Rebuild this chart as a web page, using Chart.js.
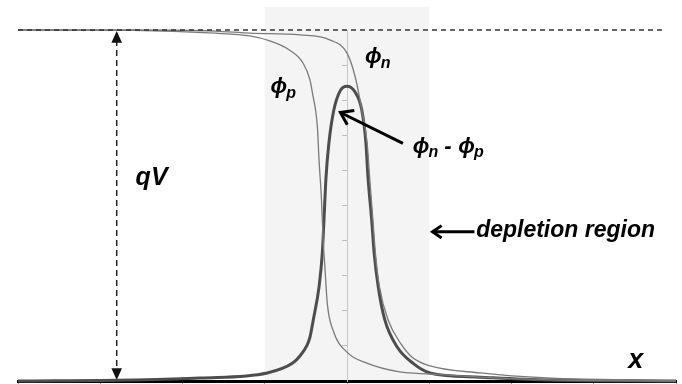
<!DOCTYPE html>
<html>
<head>
<meta charset="utf-8">
<script src="https://cdn.jsdelivr.net/npm/chart.js@4.4.1/dist/chart.umd.min.js"></script>
<style>
  html, body { margin: 0; padding: 0; background: #fff; }
  #wrap { width: 682px; height: 384px; }
</style>
</head>
<body>
<div id="wrap"><canvas id="pnChart" width="682" height="384"></canvas></div>
<script>
// position along the junction (x) and normalised energy (y)
const phiPx = [-4, -2.6, -1.6, -1.18, -0.94, -0.7, -0.535, -0.45, -0.42, -0.36, -0.34, -0.31, -0.29, -0.27, -0.24, -0.17, 0.01, 0.24, 0.64, 1.01, 1.62, 2.5, 4];
const phiPy = [1.0, 0.999, 0.991, 0.983, 0.969, 0.943, 0.906, 0.858, 0.82, 0.724, 0.63, 0.515, 0.40, 0.33, 0.222, 0.145, 0.08, 0.051, 0.026, 0.02, 0.011, 0.003, 0];

const phiNx = [-4, -2.6, -1.6, -1.18, -0.57, -0.21, 0.0, 0.1, 0.18, 0.245, 0.275, 0.315, 0.345, 0.395, 0.5, 0.65, 0.8, 1.01, 1.62, 2.43, 3.4, 4];
const phiNy = [1.0, 1.0, 0.997, 0.991, 0.986, 0.972, 0.934, 0.866, 0.772, 0.678, 0.581, 0.459, 0.365, 0.268, 0.174, 0.108, 0.066, 0.043, 0.023, 0.0085, 0.003, 0];

const diffX = [-4, -2.6, -1.79, -0.97, -0.66, -0.57, -0.49, -0.45, -0.41, -0.34, -0.30, -0.28, -0.255, -0.22, -0.16, -0.08, 0, 0.09, 0.18, 0.23, 0.255, 0.30, 0.33, 0.38, 0.46, 0.61, 0.80, 1.01, 1.62, 2.43, 4];
const diffY = [0, 0.003, 0.0085, 0.023, 0.051, 0.072, 0.1, 0.125, 0.174, 0.268, 0.365, 0.459, 0.581, 0.678, 0.772, 0.828, 0.84, 0.826, 0.772, 0.678, 0.581, 0.459, 0.365, 0.268, 0.174, 0.097, 0.051, 0.023, 0.011, 0.003, 0];

const qvLineX = [-4, 3.84];
const qvLineY = [1, 1];

const depletion = [-1, 1];
const depletionTop = 1.066;

function toPoints(xs, ys) {
  return xs.map((x, i) => ({ x: x, y: ys[i] }));
}

const shadePlugin = {
  id: 'shade',
  beforeDraw(chart) {
    const { ctx, scales } = chart;
    const x1 = scales.x.getPixelForValue(depletion[0]);
    const x2 = scales.x.getPixelForValue(depletion[1]);
    const y1 = scales.y.getPixelForValue(depletionTop);
    const y2 = scales.y.getPixelForValue(0);
    ctx.save();
    ctx.fillStyle = '#f4f4f4';
    ctx.fillRect(x1, y1, x2 - x1, y2 - y1);
    ctx.restore();
  }
};

function arrowHead(ctx, fromX, fromY, toX, toY, len, filled) {
  const a = Math.atan2(toY - fromY, toX - fromX);
  const spread = filled ? 0.42 : 0.6;
  ctx.beginPath();
  ctx.moveTo(toX - len * Math.cos(a - spread), toY - len * Math.sin(a - spread));
  ctx.lineTo(toX, toY);
  ctx.lineTo(toX - len * Math.cos(a + spread), toY - len * Math.sin(a + spread));
  if (filled) { ctx.closePath(); ctx.fill(); } else { ctx.stroke(); }
}

function phiLabel(ctx, x, y, sub, size) {
  ctx.font = 'italic bold ' + size + 'px "Liberation Sans", Arial, sans-serif';
  ctx.fillText('\u03D5', x, y);
  const w = ctx.measureText('\u03D5').width;
  ctx.font = 'italic bold ' + Math.round(size * 0.72) + 'px "Liberation Sans", Arial, sans-serif';
  ctx.fillText(sub, x + w - 1, y + size * 0.2);
  return w + ctx.measureText(sub).width - 1;
}

const notesPlugin = {
  id: 'notes',
  afterDraw(chart) {
    const { ctx, scales } = chart;
    const px = v => scales.x.getPixelForValue(v);
    const py = v => scales.y.getPixelForValue(v);
    ctx.save();
    ctx.fillStyle = '#000';
    ctx.strokeStyle = '#000';
    ctx.textBaseline = 'alphabetic';

    // qV double arrow
    const ax = px(-2.8);
    ctx.strokeStyle = '#222';
    ctx.fillStyle = '#111';
    ctx.lineWidth = 1.5;
    ctx.setLineDash([6, 4]);
    ctx.beginPath();
    ctx.moveTo(ax, py(1) + 10);
    ctx.lineTo(ax, py(0) - 10);
    ctx.stroke();
    ctx.setLineDash([]);
    arrowHead(ctx, ax, py(0.5), ax, py(1) + 1, 13, true);
    arrowHead(ctx, ax, py(0.5), ax, py(0) - 1, 13, true);

    ctx.fillStyle = '#000';
    ctx.font = 'italic bold 25px "Liberation Sans", Arial, sans-serif';
    ctx.fillText('qV', px(-2.57), py(0.558));

    // phi labels
    phiLabel(ctx, px(-0.93), py(0.82), 'p', 22);
    phiLabel(ctx, px(0.22), py(0.905), 'n', 22);

    const lx = px(0.8);
    const ly = py(0.65);
    let w = phiLabel(ctx, lx, ly, 'n', 22);
    ctx.font = 'italic bold 22px "Liberation Sans", Arial, sans-serif';
    ctx.fillText('-', lx + w + 6, ly);
    phiLabel(ctx, lx + w + 20, ly, 'p', 22);

    // arrow to the difference curve
    ctx.strokeStyle = '#000';
    ctx.lineWidth = 3;
    ctx.beginPath();
    ctx.moveTo(px(0.68), py(0.677));
    ctx.lineTo(px(-0.08), py(0.765));
    ctx.stroke();
    arrowHead(ctx, px(0.68), py(0.677), px(-0.08), py(0.765), 14, false);

    // depletion region note
    const dy = py(0.425);
    ctx.beginPath();
    ctx.moveTo(px(1.55), dy);
    ctx.lineTo(px(1.04), dy);
    ctx.stroke();
    arrowHead(ctx, px(1.55), dy, px(1.04), dy, 11, false);
    ctx.font = 'italic bold 23px "Liberation Sans", Arial, sans-serif';
    ctx.fillText('depletion region', px(1.57), py(0.41));

    ctx.font = 'italic bold 27px "Liberation Sans", Arial, sans-serif';
    ctx.fillText('x', px(3.42), py(0.037));
    ctx.restore();
  }
};

const lineBase = {
  pointRadius: 0,
  fill: false,
  cubicInterpolationMode: 'monotone',
  clip: false
};

new Chart(document.getElementById('pnChart').getContext('2d'), {
  type: 'line',
  data: {
    datasets: [
      Object.assign({}, lineBase, {
        label: 'qV level',
        data: toPoints(qvLineX, qvLineY),
        borderColor: '#333',
        borderWidth: 1.5,
        borderDash: [5, 4]
      }),
      Object.assign({}, lineBase, {
        label: 'phi_p',
        data: toPoints(phiPx, phiPy),
        borderColor: '#7a7a7a',
        borderWidth: 1.3
      }),
      Object.assign({}, lineBase, {
        label: 'phi_n',
        data: toPoints(phiNx, phiNy),
        borderColor: '#7a7a7a',
        borderWidth: 1.3
      }),
      Object.assign({}, lineBase, {
        label: 'phi_n - phi_p',
        data: toPoints(diffX, diffY),
        borderColor: '#4d4d4d',
        borderWidth: 3
      })
    ]
  },
  options: {
    responsive: false,
    animation: false,
    devicePixelRatio: 1,
    layout: { padding: { left: 18, right: 6, top: 30, bottom: 0 } },
    plugins: {
      legend: { display: false },
      tooltip: { enabled: false }
    },
    scales: {
      x: {
        type: 'linear',
        min: -4,
        max: 4,
        ticks: { display: false, stepSize: 1 },
        grid: { drawOnChartArea: false, tickLength: 3, color: '#999' },
        border: { color: '#000', width: 3 }
      },
      y: {
        type: 'linear',
        min: 0,
        max: 1,
        position: { x: 0 },
        ticks: { display: false, stepSize: 0.1 },
        grid: { drawOnChartArea: false, tickLength: 5, color: '#bdbdbd' },
        border: { color: '#c8c8c8', width: 1 }
      }
    }
  },
  plugins: [shadePlugin, notesPlugin]
});
</script>
</body>
</html>
